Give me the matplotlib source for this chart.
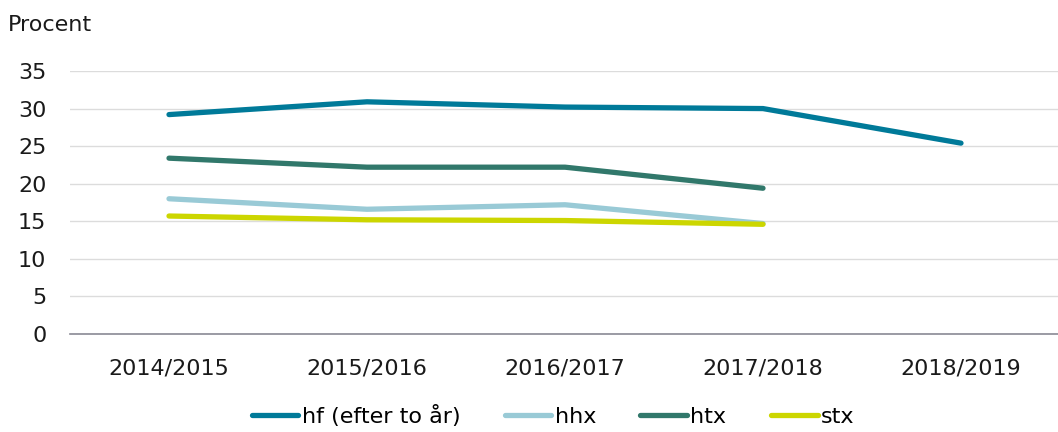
import matplotlib
matplotlib.use("Agg")
from matplotlib import pyplot as plt

years = ["2014/2015", "2015/2016", "2016/2017", "2017/2018", "2018/2019"]
hf = [29.2, 30.9, 30.2, 30.0, 25.4]
hhx = [18.0, 16.6, 17.2, 14.7]
htx = [23.4, 22.2, 22.2, 19.4]
stx = [15.7, 15.2, 15.1, 14.6]

names = ["hf (efter to år)", "hhx", "htx", "stx"]
series = [hf, hhx, htx, stx]
colors = ["#007A99", "#99CAD6", "#31786B", "#CCD600"]

plt.rcParams["font.family"] = ["DejaVu Sans"]
fs = 16
fig = plt.figure(figsize=(10.58, 4.32), dpi=100)
ax = fig.add_axes([70 / 1058, (432 - 334) / 432, 990 / 1058, (334 - 71) / 432])

for name, vals, c in zip(names, series, colors):
    ax.plot(range(len(vals)), vals, color=c, lw=3.8, label=name,
            solid_capstyle="round", solid_joinstyle="round")

ax.set_xlim(-0.5, 4.5)
ax.set_ylim(0, 35)
ax.set_yticks(range(0, 36, 5))
ax.set_xticks(range(len(years)))
ax.set_xticklabels(years)
ax.tick_params(length=0, labelsize=fs, colors="#1a1a1a")
ax.tick_params(axis="y", pad=17)
ax.tick_params(axis="x", pad=18)
ax.grid(axis="y", color="#dcdcdc", lw=1)
for s in ["top", "right", "left"]:
    ax.spines[s].set_visible(False)
ax.spines["bottom"].set_color("#8a8a95")
ax.spines["bottom"].set_linewidth(1.2)
ax.set_axisbelow(True)

fig.text(8 / 1058, 1 - 25 / 432, "Procent", fontsize=fs, va="center", color="#1a1a1a")

fig.legend(loc="center", bbox_to_anchor=(553 / 1058, 1 - 416 / 432), ncol=4,
           frameon=False, fontsize=fs, handlelength=2.1, handletextpad=0.15,
           columnspacing=2.0)

fig.savefig("out.png", dpi=100)
